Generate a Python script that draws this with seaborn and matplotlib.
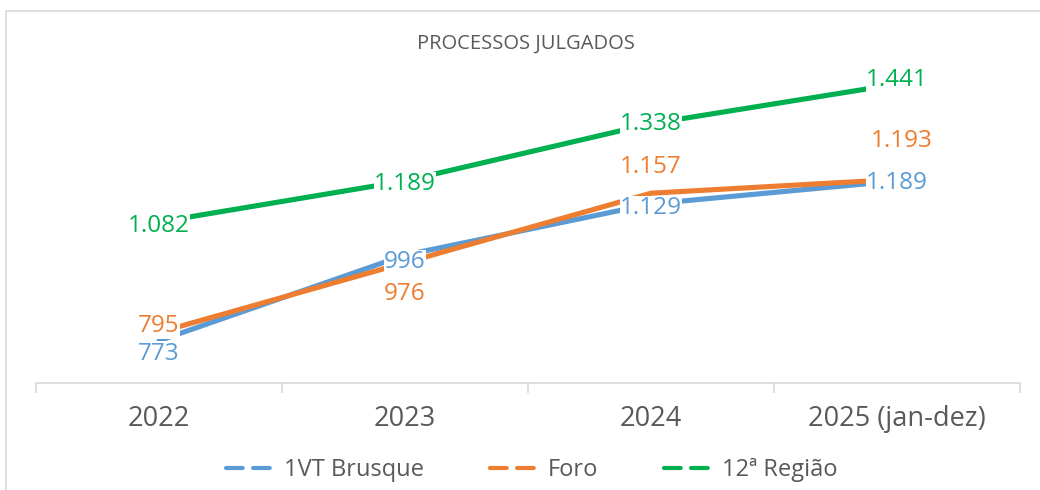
import matplotlib
matplotlib.use('Agg')
import matplotlib.pyplot as plt
import matplotlib.patches as patches
from matplotlib.lines import Line2D
import pandas as pd
import seaborn as sns

# dados do grafico
anos = ['2022', '2023', '2024', '2025 (jan-dez)']
series = ['1VT Brusque', 'Foro', '12ª Região']
brusque = [773, 996, 1129, 1189]
foro = [795, 976, 1157, 1193]
regiao = [1082, 1189, 1338, 1441]
cores = ['#5B9BD5', '#ED7D31', '#00B050']

# deslocamento dos rotulos em pixels (dx, dy)
desloc = {
    '1VT Brusque': [(0, -13), (0, -7), (0, -4), (0, -2)],
    'Foro': [(0, 6), (0, -31), (0, 26), (5, 38)],
    '12ª Região': [(0, -4), (0, -3), (0, 0), (0, 4)],
}

df = pd.DataFrame({
    'ano': anos * 3,
    'serie': [s for s in series for _ in anos],
    'valor': brusque + foro + regiao,
})

sns.set_style('white')
plt.rcParams['font.family'] = ['Open Sans', 'DejaVu Sans']

fig = plt.figure(figsize=(10.4, 4.9), dpi=100)
ax = fig.add_axes([36/1040, 1 - 383/490, (1020 - 36)/1040, (383 - 23)/490])

sns.lineplot(data=df, x='ano', y='valor', hue='serie', hue_order=series,
             palette=cores, linewidth=3.7, sort=False, ax=ax, legend=False)

ax.set_xlim(-0.5, 3.5)
ax.set_ylim(663, 1600)
ax.set_xlabel('')
ax.set_ylabel('')
ax.set_yticks([])
for s in ['top', 'left', 'right']:
    ax.spines[s].set_visible(False)
ax.spines['bottom'].set_color('#d9d9d9')
ax.spines['bottom'].set_linewidth(1.2)
ax.set_xticks([-0.5, 0.5, 1.5, 2.5, 3.5], minor=True)
ax.tick_params(axis='x', which='major', bottom=True, length=0, pad=16, labelsize=19.5,
               labelcolor='#595959')
ax.tick_params(axis='x', which='minor', bottom=True, length=7, width=1.2,
               color='#d9d9d9', direction='out')

# rotulos de dados
for s, vals, c in zip(series, [brusque, foro, regiao], cores):
    for i, v in enumerate(vals):
        dx, dy = desloc[s][i]
        txt = f'{v:,}'.replace(',', '.')
        ax.annotate(txt, (i, v), xytext=(dx * 0.72, dy * 0.72), textcoords='offset points',
                    ha='center', va='center', color=c, fontsize=17.5,
                    bbox=dict(fc='white', ec='none', pad=0.22))

fig.text(526/1040, 1 - 44/490, 'PROCESSOS JULGADOS', ha='center', va='center',
         fontsize=14.5, color='#595959')

handles = [Line2D([0], [0], color=c, lw=3, linestyle=(0, (4, 2.5)), dash_capstyle='round')
           for c in cores]
fig.legend(handles, series, loc='center', bbox_to_anchor=(532/1040, 1 - 470/490), ncol=3,
           frameon=False, fontsize=17, handlelength=2.2, handletextpad=0.25,
           columnspacing=2.8, labelcolor='#595959')

fig.patches.append(patches.Rectangle((6/1040, -0.1), 1.2, 1 - 11/490 + 0.1,
                                     transform=fig.transFigure, fill=False,
                                     ec='#d9d9d9', lw=1.2))

fig.savefig('out.png', dpi=100)
